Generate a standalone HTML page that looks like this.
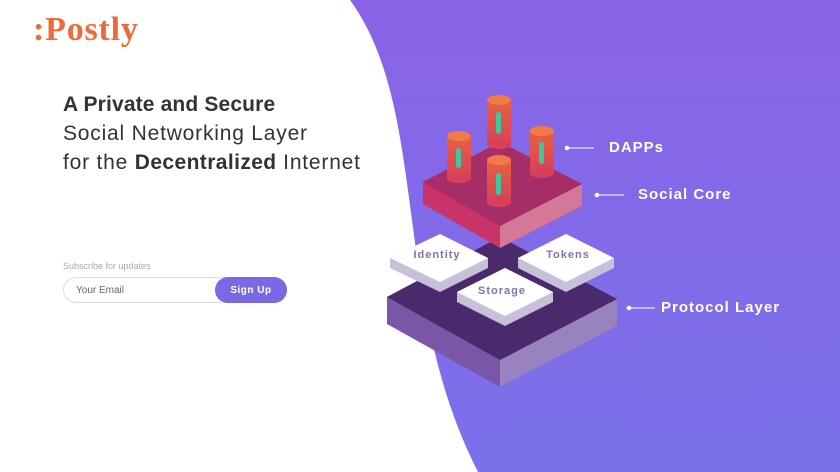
<!DOCTYPE html>
<html><head><meta charset="utf-8"><style>
body{margin:0;width:840px;height:472px;overflow:hidden;background:#fff;font-family:"Liberation Sans",sans-serif;position:relative}
svg{position:absolute;left:0;top:0}
.logo{position:absolute;left:33px;top:11px;font-family:"Liberation Serif",serif;font-size:34px;color:#ef6a3a;font-weight:bold;letter-spacing:0.8px}
.h{position:absolute;left:63px;color:#333;font-size:21px;white-space:nowrap;letter-spacing:0.8px}
.sub{position:absolute;left:63px;top:261px;font-size:9px;color:#aaa}
.inp{position:absolute;left:63px;top:277px;width:222px;height:24px;border:1px solid #ddd;border-radius:13px}
.inp span{position:absolute;left:12px;top:7px;font-size:10px;color:#666}
.btn{position:absolute;left:215px;top:277px;width:72px;height:26px;border-radius:13px;background:#7a68e4;color:#fff;font-size:10px;font-weight:bold;text-align:center;line-height:27px;letter-spacing:0.5px}
.lbl{position:absolute;color:#fff;font-weight:bold;font-size:15px;letter-spacing:1px}
</style></head><body>
<svg width="840" height="472" viewBox="0 0 840 472">
<defs>
<linearGradient id="bg" x1="0" y1="0" x2="0" y2="1"><stop offset="0" stop-color="#8a64e6"/><stop offset="1" stop-color="#7a70ea"/></linearGradient>
<linearGradient id="cyl" x1="0" y1="0" x2="0" y2="1"><stop offset="0" stop-color="#e9623e"/><stop offset="1" stop-color="#d8405a"/></linearGradient>
</defs>
<path d="M350,0 C430,110 390,300 478,472 L840,472 L840,0 Z" fill="url(#bg)"/>
<polygon points="387,297 500,237 617,299 617,326 500,387 387,324" fill="#7a56a8"/>
<polygon points="500,360 617,299 617,326 500,387" fill="#9882c0"/>
<polygon points="387,297 500,237 617,299 500,360" fill="#4a2a6c"/>
<g>
<polygon points="390,258 440,234 488,258 488,268 440,292 390,268" fill="#c8c0d8"/>
<polygon points="390,258 440,234 488,258 440,282" fill="#fff"/>
<polygon points="518,258 566,234 614,258 614,268 566,292 518,268" fill="#c8c0d8"/>
<polygon points="518,258 566,234 614,258 566,282" fill="#fff"/>
<polygon points="457,292 505,268 553,292 553,302 505,326 457,302" fill="#c8c0d8"/>
<polygon points="457,292 505,268 553,292 505,316" fill="#fff"/>
</g>
<polygon points="423,182 500,142 582,184 582,206 500,248 423,204" fill="#c83468"/>
<polygon points="500,226 582,184 582,206 500,248" fill="#d47898"/>
<polygon points="423,182 500,142 582,184 500,226" fill="#a62d68"/>
<g>
<rect x="447" y="136" width="24" height="42" fill="url(#cyl)"/><ellipse cx="459" cy="178" rx="12" ry="5" fill="#d8405a"/><ellipse cx="459" cy="136" rx="12" ry="5" fill="#f07a48"/><rect x="456" y="148" width="5" height="20" rx="2.5" fill="#3cc9a0"/>
<rect x="487" y="100" width="24" height="44" fill="url(#cyl)"/><ellipse cx="499" cy="144" rx="12" ry="5" fill="#d8405a"/><ellipse cx="499" cy="100" rx="12" ry="5" fill="#f07a48"/><rect x="496" y="112" width="5" height="22" rx="2.5" fill="#3cc9a0"/>
<rect x="530" y="131" width="24" height="42" fill="url(#cyl)"/><ellipse cx="542" cy="173" rx="12" ry="5" fill="#d8405a"/><ellipse cx="542" cy="131" rx="12" ry="5" fill="#f07a48"/><rect x="539" y="142" width="5" height="22" rx="2.5" fill="#3cc9a0"/>
<rect x="487" y="160" width="24" height="42" fill="url(#cyl)"/><ellipse cx="499" cy="202" rx="12" ry="5" fill="#d8405a"/><ellipse cx="499" cy="160" rx="12" ry="5" fill="#f07a48"/><rect x="496" y="173" width="5" height="22" rx="2.5" fill="#3cc9a0"/>
</g>
<g font-family="Liberation Sans" font-weight="bold" font-size="11" fill="#8a70b0" text-anchor="middle" letter-spacing="1">
<text x="437" y="258">Identity</text><text x="568" y="258">Tokens</text><text x="502" y="294">Storage</text>
</g>
<g stroke="#fff" stroke-width="1" fill="#fff">
<line x1="567" y1="148" x2="594" y2="148"/><circle cx="567" cy="148" r="1.8"/>
<line x1="597" y1="195" x2="624" y2="195"/><circle cx="597" cy="195" r="1.8"/>
<line x1="629" y1="308" x2="655" y2="308"/><circle cx="629" cy="308" r="1.8"/>
</g>
</svg>
<div class="logo">:Postly</div>
<div class="h" style="top:93px;font-weight:bold;letter-spacing:0.15px">A Private and Secure</div>
<div class="h" style="top:122px">Social Networking Layer</div>
<div class="h" style="top:151px">for the <b style="letter-spacing:0.4px">Decentralized</b> Internet</div>
<div class="sub">Subscribe for updates</div>
<div class="inp"><span>Your Email</span></div>
<div class="btn">Sign Up</div>
<div class="lbl" style="left:609px;top:139px">DAPPs</div>
<div class="lbl" style="left:638px;top:186px">Social Core</div>
<div class="lbl" style="left:661px;top:299px">Protocol Layer</div>
</body></html>
